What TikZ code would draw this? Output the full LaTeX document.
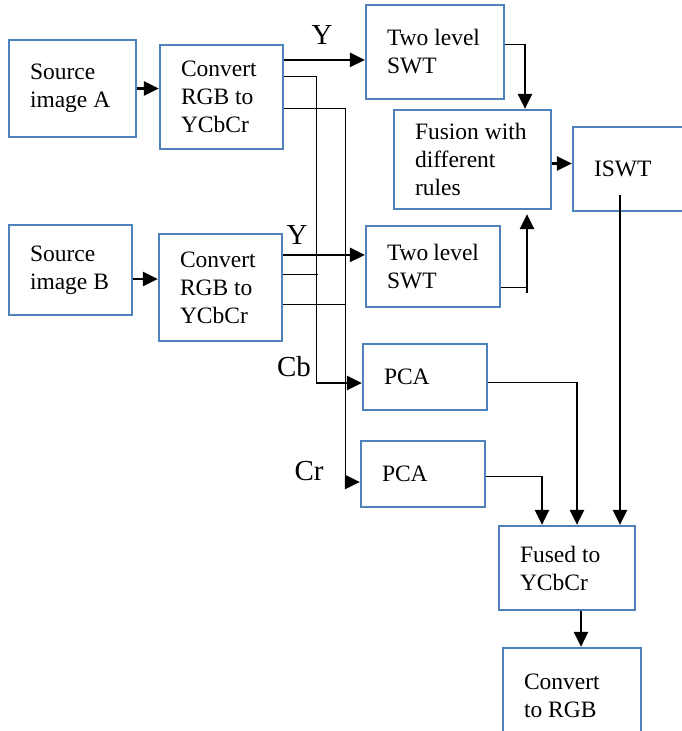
\documentclass[tikz,border=0pt]{standalone}
\usepackage{fontspec}
\setmainfont{Liberation Serif}
\usetikzlibrary{arrows.meta}
\definecolor{boxblue}{RGB}{79,129,189}

\begin{document}
\begin{tikzpicture}[x=1pt,y=-1pt,
                    box/.style={draw=boxblue,line width=2.2pt,align=flush left,inner xsep=21pt,inner ysep=0pt,
                                font=\fontsize{23.5}{28}\selectfont},
                    thk/.style={line width=2.6pt,-{Triangle[length=15pt,width=14pt]}},
                    thn/.style={line width=1pt},
                    lbl/.style={font=\fontsize{29}{34}\selectfont,inner sep=0pt}
                ]
                    \clip (0,0) rectangle (682,731);

                    % blocks
                    \node[box,minimum width=127pt,minimum height=97pt,text width=85pt] (srcA) at (72.5,88.5) {Source\\image~A};
                    \node[box,minimum width=123pt,minimum height=104pt,text width=81pt] (cvA) at (221.5,97) {Convert\\RGB~to\\YCbCr};
                    \node[box,minimum width=123pt,minimum height=90pt,text width=81pt] (srcB) at (70.5,270) {Source\\image~B};
                    \node[box,minimum width=123pt,minimum height=107pt,text width=81pt] (cvB) at (220.5,287.5) {Convert\\RGB~to\\YCbCr};
                    \node[box,minimum width=138pt,minimum height=94pt,text width=96pt] (swtA) at (435,52) {Two~level\\SWT};
                    \node[box,minimum width=134pt,minimum height=81pt,text width=92pt] (swtB) at (433,266.5) {Two~level\\SWT};
                    \node[box,minimum width=157pt,minimum height=99pt,text width=115pt] (fus) at (472.5,159.5) {Fusion~with\\different\\rules};
                    \node[box,minimum width=124pt,minimum height=84pt,text width=82pt] (iswt) at (635,169) {ISWT};
                    \node[box,minimum width=124pt,minimum height=66pt,text width=82pt] (pcaB) at (425,377) {PCA};
                    \node[box,minimum width=124pt,minimum height=66pt,text width=82pt] (pcaR) at (423,474) {PCA};
                    \node[box,minimum width=136pt,minimum height=84pt,text width=94pt] (fused) at (567,568) {Fused~to\\YCbCr};
                    \node[box,minimum width=138pt,minimum height=96pt,text width=96pt] (rgb) at (572,696) {Convert\\to~RGB};

                    % channel labels
                    \node[lbl] (yA) at (322,35) {Y};
                    \node[lbl] (yB) at (297,235) {Y};
                    \node[lbl] (lcb) at (294,367) {Cb};
                    \node[lbl] (lcr) at (309,471) {Cr};

                    % bend points
                    \coordinate (cbA) at (316,76);
                    \coordinate (cbB) at (318,274);
                    \coordinate (cb) at (316,383);
                    \coordinate (crA) at (345,108);
                    \coordinate (crB) at (345,304);
                    \coordinate (cr) at (345,482);
                    \coordinate (ja) at (525,44);
                    \coordinate (jb) at (527,287);
                    \coordinate (iw) at (620,195);
                    \coordinate (pb) at (577,382);
                    \coordinate (pr) at (542,476);

                    \draw[thk] (srcA.east) -- (srcA.east -| cvA.west);
                    \draw[thk] ([yshift=-9pt]srcB.east) -- ([yshift=-9pt]srcB.east -| cvB.west);
                    \draw[thk] ([yshift=-16pt]cvA.north east) -- ([yshift=-16pt]cvA.north east -| swtA.west);
                    \draw[thk] ([yshift=-22pt]cvB.north east) -- ([yshift=-22pt]cvB.north east -| swtB.west);

                    \draw[thn] (cvA.east |- cbA) -- (cbA) -- (cb);
                    \draw[thn] (cvA.east |- crA) -- (crA) -- (cr);
                    \draw[thn] (cvB.east |- cbB) -- (cbB);
                    \draw[thn] (cvB.east |- crB) -- (crB);
                    \draw[thk] (cb) -- (cb -| pcaB.west);
                    \draw[thk] (cr) -- (cr -| pcaR.west);

                    \draw[thn] (swtA.east |- ja) -- (ja);
                    \draw[thk] (ja) -- (ja |- fus.north);
                    \draw[thn] (swtB.east |- jb) -- (jb);
                    \draw[thk,shorten >=4pt] ([yshift=-6pt]jb) -- (jb |- fus.south);
                    \draw[thk] ([yshift=-4pt]fus.east) -- ([yshift=-4pt]fus.east -| iswt.west);

                    \draw[thk] (iw) -- (iw |- fused.north);
                    \draw[thn] (pcaB.east |- pb) -- (pb);
                    \draw[thk] (pb) -- (pb |- fused.north);
                    \draw[thn] (pcaR.east |- pr) -- (pr);
                    \draw[thk] (pr) -- (pr |- fused.north);
                    \draw[thk] ([xshift=14pt]fused.south) -- ([xshift=14pt]fused.south |- rgb.north);

                \end{tikzpicture}
\end{document}
